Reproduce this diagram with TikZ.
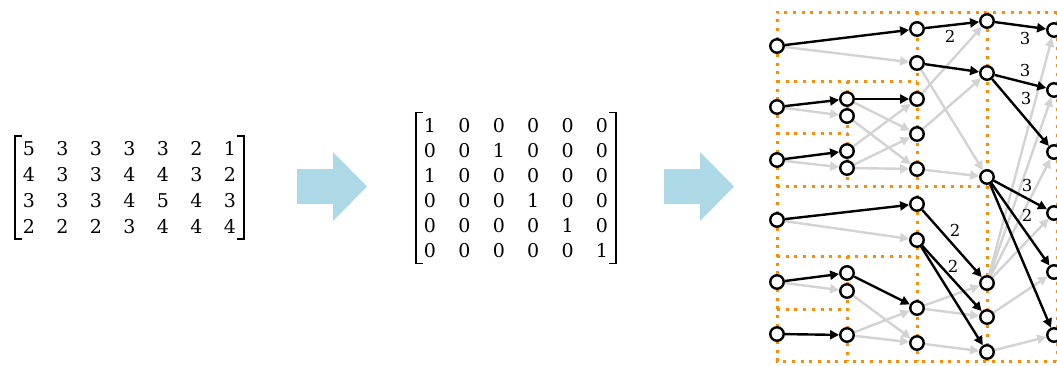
\documentclass[tikz,border=0pt]{standalone}
\usepackage{fontspec}
\setmainfont{DejaVu Serif}
\usetikzlibrary{arrows.meta,matrix}
\definecolor{boxorange}{RGB}{255,140,0}
\definecolor{idlegray}{RGB}{211,211,211}
\definecolor{arrowblue}{RGB}{173,216,230}
\pgfdeclarelayer{boxes}
\pgfdeclarelayer{links}
\pgfsetlayers{boxes,links,main}
\tikzset{
  vtx/.style={circle, draw=black, fill=white, line width=2.4pt, minimum size=13.5pt, inner sep=0pt},
  link/.style={line width=2.4pt, -{Triangle[length=9pt,width=9pt]}},
  used/.style={link, draw=black},
  idle/.style={link, draw=idlegray},
  part/.style={draw=boxorange, line width=3pt, dash pattern=on 3pt off 5.7pt},
  wlabel/.style={font=\fontsize{16.5}{16.5}\selectfont, inner sep=0pt},
  bigarrow/.style={fill=arrowblue, draw=none},
  brack/.style={line width=1.7pt},
  numgrid/.style={matrix of nodes, inner sep=0pt,
    nodes={font=\fontsize{19}{19}\selectfont, inner sep=0pt, minimum width=#1, minimum height=25pt}}
}
\begin{document}
\begin{tikzpicture}[x=1pt, y=-1pt]
        \useasboundingbox (0,0) rectangle (1057,365);
        % demand matrix
        \matrix (lm) [numgrid=28pt, column sep=5.5pt, row sep=0.5pt] at (129.5,187.5) {
            5 & 3 & 3 & 3 & 3 & 2 & 1 \\
            4 & 3 & 3 & 4 & 4 & 3 & 2 \\
            3 & 3 & 3 & 4 & 5 & 4 & 3 \\
            2 & 2 & 2 & 3 & 4 & 4 & 4 \\
        };
        \draw[brack] (lm.north west) ++(7,0) -- ++(-7,0) -- (lm.south west) -- ++(7,0);
        \draw[brack] (lm.north east) ++(-7,0) -- ++(7,0) -- (lm.south east) -- ++(-7,0);
        % assignment matrix
        \matrix (pm) [numgrid=28pt, column sep=6.4pt] at (516,188) {
            1 & 0 & 0 & 0 & 0 & 0 \\
            0 & 0 & 1 & 0 & 0 & 0 \\
            1 & 0 & 0 & 0 & 0 & 0 \\
            0 & 0 & 0 & 1 & 0 & 0 \\
            0 & 0 & 0 & 0 & 1 & 0 \\
            0 & 0 & 0 & 0 & 0 & 1 \\
        };
        \draw[brack] (pm.north west) ++(7,0) -- ++(-7,0) -- (pm.south west) -- ++(7,0);
        \draw[brack] (pm.north east) ++(-7,0) -- ++(7,0) -- (pm.south east) -- ++(-7,0);
        % the two block arrows
        \foreach \dx in {0,367}
            \fill[bigarrow, xshift=\dx] (297,169) -- (333,169) -- (333,152) -- (367,186.5)
                -- (333,221) -- (333,204) -- (297,204) -- cycle;

        % switch stages
        \foreach \n/\y in {1/46,2/107,3/160,4/220,5/282,6/334}
            \node[vtx] (a\n) at (777,\y) {};
        \foreach \n/\y in {1/99,2/116,3/151,4/168,5/273,6/291,7/335}
            \node[vtx] (b\n) at (847,\y) {};
        \foreach \n/\y in {1/29,2/63,3/99,4/134,5/169,6/204,7/240,8/308,9/343}
            \node[vtx] (c\n) at (917,\y) {};
        \foreach \n/\y in {1/21,2/73,3/177,4/283,5/317,6/352}
            \node[vtx] (d\n) at (987,\y) {};
        \foreach \n/\y in {1/30,2/90,3/152,4/213,5/272,6/335}
            \node[vtx] (e\n) at (1054,\y) {};

        % recursive blocks
        \begin{pgfonlayer}{boxes}
            \draw[part] (1057,12) -- (777,12) -- (777,361) -- (1057,361);
            \draw[part] (1057,12) -- (1057,361);
            \draw[part] (917,12) -- (917,361);
            \draw[part] (987,12) -- (987,361);
            \draw[part] (777,186) -- (987,186);
            \draw[part] (777,81) -- (917,81);
            \draw[part] (777,256) -- (917,256);
            \draw[part] (847,81) -- (847,186);
            \draw[part] (847,256) -- (847,361);
            \draw[part] (777,133) -- (847,133);
            \draw[part] (777,309) -- (847,309);
        \end{pgfonlayer}

        % links
        \begin{pgfonlayer}{links}
            \foreach \s/\t in {a1/c2, a2/b2, a3/b4, a4/c7, a5/b6,
                    b1/c4, b2/c5, b3/c3, b4/c4, b4/c5, b6/c9, b7/c8, b7/c9,
                    c2/d3, c3/d1, c4/d2, c5/d3, c8/d4, c8/d5, c9/d6,
                    d4/e1, d4/e2, d4/e3, d4/e4, d5/e5, d6/e6}
                \draw[idle] (\s) -- (\t);
            \foreach \s/\t in {a1/c1, a2/b1, a3/b3, a4/c6, a5/b5, a6/b7,
                    b1/c3, b5/c8,
                    c1/d1, c2/d2, c6/d4, c7/d5, c7/d6,
                    d1/e1, d2/e2, d2/e3, d3/e4, d3/e5, d3/e6}
                \draw[used] (\s) -- (\t);
        \end{pgfonlayer}

        % multiplicities
        \node[wlabel] (w1) at (950,36) {2};
        \node[wlabel] (w2) at (1025,38) {3};
        \node[wlabel] (w3) at (1025,70) {3};
        \node[wlabel] (w4) at (1026,98) {3};
        \node[wlabel] (w5) at (1027,185) {3};
        \node[wlabel] (w6) at (1027,215) {2};
        \node[wlabel] (w7) at (955,230) {2};
        \node[wlabel] (w8) at (953,266) {2};
\end{tikzpicture}
\end{document}
